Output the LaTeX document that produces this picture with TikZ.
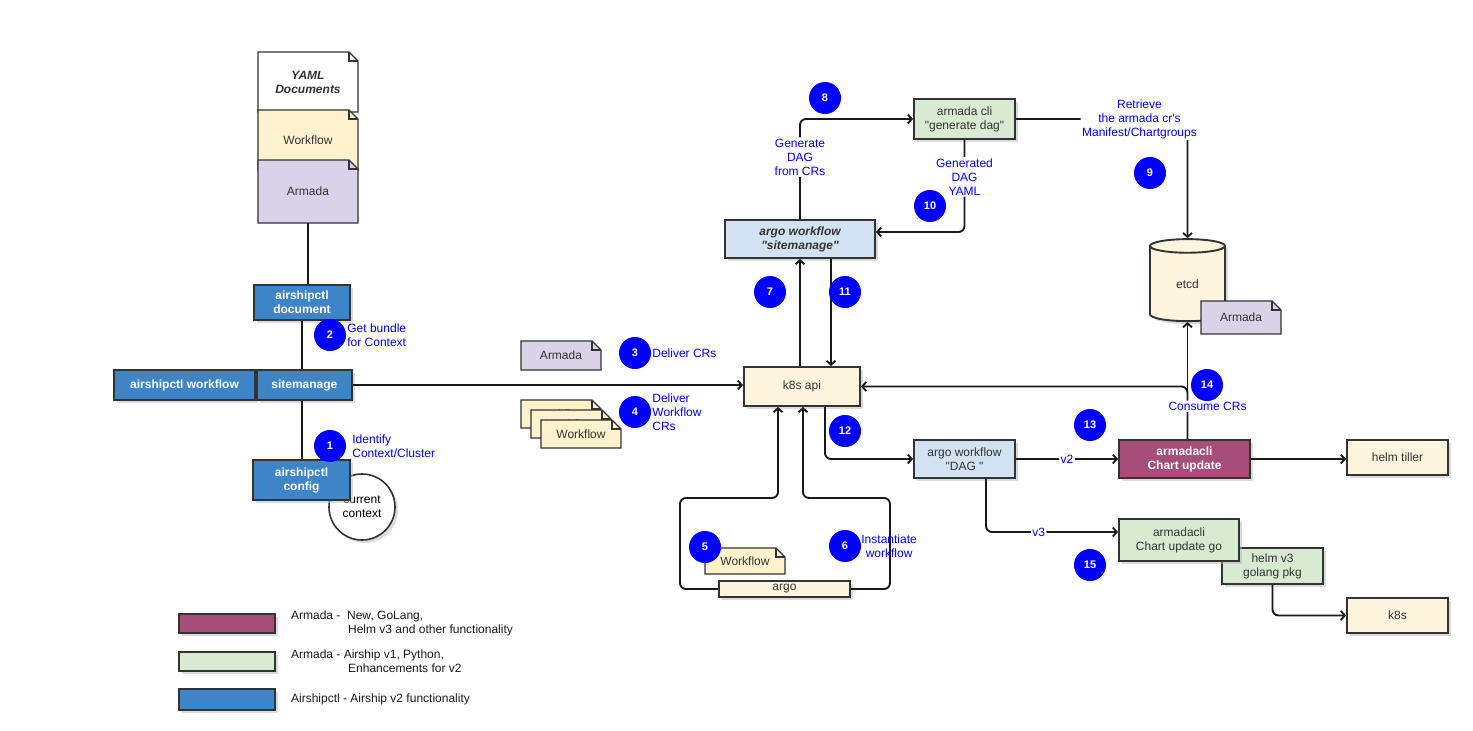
\documentclass[tikz,border=0pt]{standalone}
\usepackage{fontspec}
\setmainfont{Liberation Sans}
\usetikzlibrary{positioning,shapes.geometric,shadows,arrows.meta}

\definecolor{ctlblue}{HTML}{3D85C6}
\definecolor{wfblue}{HTML}{D2E2F3}
\definecolor{pygreen}{HTML}{D9EAD3}
\definecolor{newmaroon}{HTML}{A64D79}
\definecolor{docyellow}{HTML}{FFF2CC}
\definecolor{k8syellow}{HTML}{FFF5DE}
\definecolor{crpurple}{HTML}{D9D2E9}
\definecolor{boxline}{HTML}{333333}
\definecolor{textgray}{HTML}{333333}
\definecolor{numblue}{HTML}{0000FF}
\definecolor{lineblack}{HTML}{1A1A1A}

% note shape with folded corner: name, x, y, width, height, fill, text
\newcommand{\docnote}[7]{%
\path[docshape,fill=#6] ({#2-#4/2},{#3-#5/2}) -- ({#2+#4/2-9},{#3-#5/2}) -- ({#2+#4/2},{#3-#5/2+9}) -- ({#2+#4/2},{#3+#5/2}) -- ({#2-#4/2},{#3+#5/2}) -- cycle;
\draw[docshape] ({#2+#4/2-9},{#3-#5/2}) -- ({#2+#4/2-9},{#3-#5/2+9}) -- ({#2+#4/2},{#3-#5/2+9});
\node[text=textgray,minimum width=#4,minimum height=#5] (#1) at (#2,#3) {#7};}

\begin{document}
\begin{tikzpicture}
[x=1pt,y=-1pt,
every node/.style={font=\fontsize{12}{14}\selectfont,align=center,inner sep=0pt},
dropsh/.style={drop shadow={shadow xshift=3pt,shadow yshift=-3pt,fill=black!28}},
docshape/.style={draw=boxline,line width=1.4pt,line join=miter},
boxbase/.style={draw=boxline,line width=1.9pt,text=textgray,dropsh},
ctlbox/.style={boxbase,fill=ctlblue,text=white,font=\fontsize{12}{14}\selectfont\bfseries},
bluebox/.style={boxbase,fill=wfblue},
greenbox/.style={boxbase,fill=pygreen},
marbox/.style={boxbase,fill=newmaroon,text=white,font=\fontsize{12}{14}\selectfont\bfseries},
yelbox/.style={boxbase,fill=k8syellow},
link/.style={draw=lineblack,line width=1.9pt,rounded corners=6pt},
arr/.style={link,-{Straight Barb[length=4pt,width=9pt]}},
lbl/.style={fill=white,text=numblue,inner sep=1.5pt},
bluetxt/.style={text=numblue,align=left},
legtxt/.style={text=black!90,align=left},
num/.style={circle,fill=numblue,text=white,minimum size=32pt,font=\fontsize{11}{13}\selectfont\bfseries}]
\useasboundingbox (0,0) rectangle (1473,731);

% documents
\docnote{yamldoc}{308}{82}{100}{60}{white}{\bfseries\itshape YAML\\\bfseries\itshape Documents}
\docnote{wfdoc}{308}{140}{100}{60}{docyellow}{Workflow}
\docnote{armadadoc}{308}{191.5}{100}{63}{crpurple}{Armada}
\docnote{crdoc}{561}{355.5}{80}{29}{crpurple}{Armada}
\docnote{wfa}{561}{414}{80}{28}{docyellow}{Workflow}
\docnote{wfb}{571}{424}{80}{28}{docyellow}{Workflow}
\docnote{wfc}{581}{434}{80}{28}{docyellow}{Workflow}

% airshipctl
\node[ctlbox,minimum width=96,minimum height=35] (ctldoc) at (302,302.5) {airshipctl\\document};
\node[ctlbox,minimum width=141,minimum height=30] (ctlwf) at (184.5,385) {airshipctl workflow};
\node[ctlbox,minimum width=95,minimum height=30,right=0pt of ctlwf] (sitemanage) {sitemanage};
\node[circle,draw=boxline,line width=1.6pt,fill=white,minimum size=66pt,text=black,dropsh] (curctx) at (362,507) {current\\context};
\node[ctlbox,minimum width=97,minimum height=40] (ctlconfig) at (301.5,480) {airshipctl\\config};

% k8s side
\node[yelbox,minimum width=116,minimum height=39] (k8sapi) at (802,386.5) {k8s api};
\node[bluebox,minimum width=150,minimum height=38,font=\fontsize{12}{14}\selectfont\bfseries\itshape] (argowf) at (800,239) {argo workflow\\\textquotedbl sitemanage\textquotedbl};
\node[greenbox,minimum width=101,minimum height=40] (armadacli) at (964.5,119) {armada cli\\\textquotedbl generate dag\textquotedbl};
\node[cylinder,shape border rotate=90,aspect=0.6,boxbase,fill=k8syellow,minimum width=75,minimum height=82] (etcd) at (1187.5,284) {etcd};
\docnote{etcddoc}{1241}{317.5}{80}{33}{crpurple}{Armada}
\node[yelbox,minimum width=131,minimum height=16] (argo) at (784.5,589) {argo};
\docnote{argodoc}{745}{561}{80}{26}{docyellow}{Workflow}
\node[bluebox,minimum width=101,minimum height=38] (dag) at (964.5,459) {argo workflow\\\textquotedbl DAG \textquotedbl};
\node[marbox,minimum width=131,minimum height=38] (chartupd) at (1184.5,459) {armadacli\\Chart update};
\node[yelbox,minimum width=101,minimum height=35] (helmtiller) at (1397.5,457.5) {helm tiller};
\node[greenbox,minimum width=101,minimum height=36] (helmv3) at (1272.5,566) {helm v3\\golang pkg};
\node[greenbox,minimum width=120,minimum height=42] (chartgo) at (1179,540) {armadacli\\Chart update go};
\node[yelbox,minimum width=101,minimum height=35] (k8s) at (1397.5,615.5) {k8s};

% connectors
\draw[link] (armadadoc.south) -- (armadadoc.south |- ctldoc.north);
\draw[link] (ctldoc.south) -- (ctldoc.south |- sitemanage.north);
\draw[link] (ctldoc.south |- sitemanage.south) -- (ctldoc.south |- ctlconfig.north);
\draw[arr] (sitemanage.east) -- (sitemanage.east -| k8sapi.west);
\draw[arr] (argowf.south |- k8sapi.north) -- (argowf.south);
\draw[arr] ([xshift=31pt]argowf.south) -- ([xshift=31pt]argowf.south |- k8sapi.north);
\draw[arr] (argowf.north) |- node[lbl,pos=0.31] {Generate\\DAG\\from CRs} (armadacli.west);
\draw[arr] (armadacli.south) |- node[lbl,pos=0.2] {Generated\\DAG\\YAML} ([yshift=7pt]argowf.east);
\draw[arr] (armadacli.east) -| node[lbl,pos=0.36] {Retrieve\\the armada cr\textquotesingle s\\Manifest/Chartgroups} (etcd.north);
\draw[arr] (argo.west) -| (680,498) -| ([xshift=-24pt]k8sapi.south);
\draw[arr] (argo.east) -| (890,498) -| ([xshift=1pt]k8sapi.south);
\draw[arr] ([xshift=23pt]k8sapi.south) |- (dag.west);
\draw[arr] (dag.east) -- node[lbl] {v2} (chartupd.west);
\draw[arr] ([xshift=21.5pt]dag.south) |- node[lbl,pos=0.7] {v3} ([yshift=8pt]chartgo.west);
\draw[arr] (etcd.south |- chartupd.north) |- (k8sapi.east);
\draw[arr] (etcd.south |- chartupd.north) -- node[lbl,pos=0.28,xshift=20pt] {Consume CRs} (etcd.south);
\draw[arr] (chartupd.east) -- (chartupd.east -| helmtiller.west);
\draw[arr] (helmv3.south) |- (k8s.west);

% numbered steps
\foreach \n/\x/\y in {1/330/446,2/330/335,3/635/353,4/635/412,5/705/547,6/845/546,7/770/292,8/825/98,9/1150/173,10/930/206,11/845/292,12/845/431,13/1090/425,14/1207/385,15/1090/565}
\node[num] (c\n) at (\x,\y) {\n};
\node[bluetxt,right=1pt of c2] (l2) {Get bundle\\for Context};
\node[bluetxt,right=6pt of c1] (l1) {Identify\\Context/Cluster};
\node[bluetxt,right=1pt of c3] (l3) {Deliver CRs};
\node[bluetxt,right=1pt of c4] (l4) {Deliver\\Workflow\\CRs};
\node[bluetxt,align=center,right=0pt of c6] (l6) {Instantiate\\workflow};

% legend
\node[marbox,minimum width=96,minimum height=19] (legnew) at (227,623.5) {};
\node[greenbox,minimum width=96,minimum height=19] (legpy) at (227,661.5) {};
\node[ctlbox,minimum width=96,minimum height=21] (legctl) at (227,699.5) {};
\node[legtxt,right=15pt of legnew] (legnewtxt) {Armada -\ \ New, GoLang,\\\hspace*{57pt}Helm v3 and other functionality};
\node[legtxt,right=15pt of legpy] (legpytxt) {Armada - Airship v1, Python,\\\hspace*{57pt}Enhancements for v2};
\node[legtxt,right=15pt of legctl] (legctltxt) {Airshipctl - Airship v2 functionality};
\end{tikzpicture}
\end{document}
